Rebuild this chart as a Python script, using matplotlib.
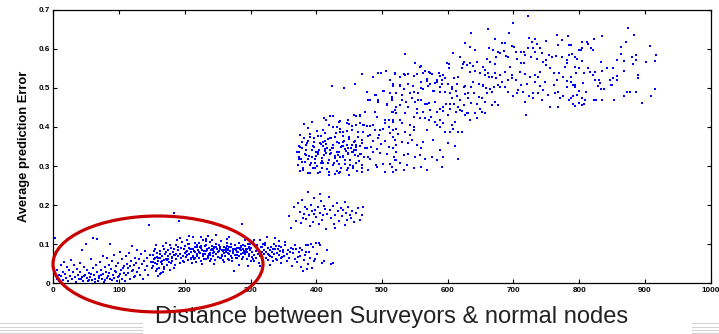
import matplotlib
matplotlib.use("Agg")
import matplotlib.pyplot as plt
from matplotlib.patches import Ellipse
from matplotlib.lines import Line2D

# ---------------- data (distance, average prediction error) ----------------
near_pts = [
    (3,.115),(5,.012),(6,.035),(8,.022),(9,.006),(11,.048),(12,.018),(14,.030),(15,.009),(17,.055),
    (18,.025),(20,.014),(21,.041),(23,.005),(24,.033),(26,.019),(27,.060),(29,.011),(30,.028),(31,.046),
    (33,.016),(34,.004),(36,.037),(37,.022),(39,.012),(40,.052),(41,.030),(43,.084),(44,.015),(45,.007),
    (47,.042),(48,.021),(49,.101),(51,.013),(52,.034),(53,.005),(55,.026),(56,.016),(57,.061),(59,.009),
    (60,.038),(61,.117),(62,.020),(63,.011),(65,.047),(66,.113),(67,.028),(68,.006),(70,.018),(71,.055),
    (72,.033),(74,.012),(75,.070),(76,.024),(78,.041),(79,.008),(80,.030),(81,.064),(83,.019),(84,.046),
    (86,.011),(87,.100),(88,.036),(89,.058),(91,.022),(92,.014),(93,.072),(95,.043),(96,.029),(97,.006),
    (99,.052),(100,.018),(101,.081),(103,.035),(104,.062),(105,.012),(107,.044),(108,.027),(110,.069),(111,.020),
    (112,.050),(114,.038),(115,.078),(116,.010),(118,.058),(119,.031),(120,.095),(122,.046),(123,.016),(124,.066),
    (126,.053),(127,.028),(128,.086),(130,.040),(131,.061),(132,.022),(134,.074),(135,.049),(136,.012),(138,.057),
    (139,.083),(140,.034),(142,.066),(143,.045),(144,.020),(146,.149),(147,.072),(148,.054),(150,.038),
    (42,.010),(46,.018),(54,.008),(58,.024),(64,.003),(69,.014),(73,.021),(77,.004),(82,.013),(85,.026),
    (90,.009),(94,.031),(98,.015),(102,.024),(106,.039),(109,.005),(113,.027),(117,.043),(121,.033),(125,.019),
]

mid_pts = [
    (151,.072),(152,.045),(153,.061),(154,.089),(155,.052),(156,.031),(157,.068),(158,.078),(159,.018),(160,.057),
    (161,.040),(162,.083),(163,.064),(164,.027),(165,.071),(166,.050),(167,.095),(168,.059),(169,.036),(170,.076),
    (171,.062),(172,.104),(173,.048),(174,.069),(175,.085),(176,.055),(177,.033),(178,.074),(179,.091),(180,.066),
    (181,.058),(182,.080),(183,.181),(184,.072),(185,.047),(186,.097),(187,.063),(188,.110),(189,.069),(190,.084),
    (191,.160),(192,.052),(193,.075),(194,.090),(195,.066),(196,.106),(197,.071),(198,.058),(199,.087),(200,.078),
    (151,.055),(154,.066),(158,.049),(162,.074),(166,.058),(171,.080),(175,.061),(179,.052),(183,.088),(187,.076),
    (153,.083),(157,.037),(160,.064),(164,.054),(169,.087),(173,.059),(177,.098),(181,.067),(185,.073),(189,.093),
    (201,.095),(202,.068),(203,.082),(204,.112),(205,.059),(206,.076),(207,.101),(208,.087),(209,.064),(210,.079),
    (211,.088),(212,.071),(213,.118),(214,.062),(215,.093),(216,.080),(217,.055),(218,.098),(219,.074),(220,.085),
    (221,.066),(222,.103),(223,.078),(224,.091),(225,.058),(226,.086),(227,.071),(228,.110),(229,.082),(230,.095),
    (231,.074),(232,.062),(233,.099),(234,.084),(235,.121),(236,.069),(237,.090),(238,.077),(239,.105),(240,.063),
    (241,.087),(242,.112),(243,.070),(244,.094),(245,.081),(246,.060),(247,.100),(248,.076),(249,.089),(250,.068),
    (203,.073),(207,.090),(212,.067),(216,.103),(221,.079),(225,.096),(229,.063),(234,.087),(238,.072),(243,.084),
    (205,.100),(209,.061),(214,.082),(218,.070),(223,.092),(227,.075),(232,.108),(236,.066),(241,.096),(245,.090),
    (251,.079),(252,.097),(253,.065),(254,.088),(255,.108),(256,.073),(257,.084),(258,.060),(259,.093),(260,.077),
    (261,.069),(262,.090),(263,.080),(264,.102),(265,.062),(266,.086),(267,.075),(268,.118),(269,.083),(270,.071),
    (271,.094),(272,.066),(273,.087),(274,.078),(275,.031),(276,.099),(277,.072),(278,.085),(279,.091),(280,.064),
    (281,.080),(282,.104),(283,.070),(284,.089),(285,.076),(286,.092),(287,.152),(288,.067),(289,.098),(290,.083),
    (291,.074),(292,.095),(293,.087),(294,.061),(295,.079),(296,.101),(297,.070),(298,.090),(299,.084),(300,.057),
    (253,.092),(257,.070),(262,.085),(266,.077),(271,.101),(276,.088),(280,.073),(285,.096),(289,.078),(294,.089),
    (255,.064),(259,.086),(264,.096),(268,.059),(273,.080),(278,.066),(282,.091),(287,.062),(292,.081),(297,.093),
    (156,.098),(168,.042),(193,.115),(211,.051),(233,.113),(247,.124),(272,.056),(291,.110),(184,.040),(224,.118),
    (199,.054),(215,.065),(239,.058),(260,.055),(283,.047),(226,.050),(206,.120),(244,.049),(264,.113),(296,.045),
    (202,.081),(218,.094),(237,.075),(252,.083),(268,.093),(286,.085),(299,.100),(243,.078),(228,.069),(213,.087),
    (240,.085),(258,.082),(274,.086),(279,.079),(288,.087),(293,.082),(298,.076),(265,.089),(248,.092),(232,.083),
    (162,.025),(167,.030),
]

plateau_pts = [
    (301,.091),(302,.068),(303,.080),(304,.105),(305,.072),(306,.058),(307,.095),(308,.083),(309,.064),(310,.099),
    (311,.076),(312,.088),(313,.052),(314,.110),(315,.069),(316,.093),(317,.081),(318,.062),(319,.101),(320,.074),
    (321,.085),(322,.097),(323,.066),(324,.079),(325,.118),(326,.059),(327,.090),(328,.072),(329,.084),(330,.047),
    (331,.093),(332,.068),(333,.081),(334,.056),(335,.100),(336,.074),(337,.087),(338,.063),(339,.095),(340,.078),
    (341,.060),(342,.089),(343,.072),(344,.108),(345,.083),(346,.051),(347,.094),(348,.067),(349,.079),(350,.086),
    (351,.071),(353,.097),(355,.058),(357,.084),(359,.066),(361,.091),(363,.043),(365,.077),(367,.062),(369,.088),
    (371,.054),(373,.079),(375,.069),(377,.041),(379,.085),(381,.060),(383,.073),(385,.097),(387,.050),(389,.081),
    (391,.066),(393,.038),(395,.092),(398,.061),(401,.074),(404,.103),(408,.052),(412,.058),(417,.085),(423,.049),
    (306,.112),(314,.043),(322,.104),(329,.069),(337,.115),(344,.096),(352,.106),(360,.080),(368,.099),(376,.090),
    (304,.062),(318,.093),(326,.076),(334,.089),(346,.064),(356,.075),(364,.087),(372,.068),(384,.079),(396,.058),
    (380,.031),(386,.037),(392,.101),(388,.098),(399,.104),(406,.099),(425,.052),
]

step_pts = [
    (358,.172),(362,.141),(366,.195),(369,.160),(372,.205),(375,.183),(377,.153),(379,.212),(381,.178),(383,.196),
    (385,.165),(386,.190),(388,.234),(389,.175),(391,.146),(392,.201),(394,.184),(395,.158),(397,.219),(398,.188),
    (400,.170),(402,.196),(404,.151),(405,.181),(407,.210),(409,.163),(411,.175),(413,.191),(415,.140),(417,.178),
    (419,.222),(421,.187),(423,.166),(425,.199),(427,.151),(429,.176),(431,.205),(433,.184),(435,.160),(437,.193),
    (439,.171),(441,.188),(443,.149),(445,.181),(447,.163),(449,.195),(451,.176),(453,.168),(455,.186),(458,.157),
    (461,.179),(464,.192),(467,.163),(470,.174),(380,.166),(396,.178),(412,.199),(428,.141),(444,.207),(406,.228),
    (471,.196),
]

band_pts = [
    (371,.336),(372,.302),(374,.351),(375,.288),(377,.319),(378,.345),(380,.296),(381,.372),(383,.311),(384,.328),
    (386,.358),(387,.283),(389,.325),(390,.383),(392,.307),(393,.341),(395,.294),(396,.362),(398,.318),(399,.335),
    (401,.300),(402,.377),(404,.342),(405,.286),(407,.356),(408,.321),(410,.392),(411,.309),(413,.338),(414,.364),
    (416,.293),(417,.347),(419,.406),(420,.315),(422,.333),(423,.371),(425,.302),(426,.355),(428,.280),(429,.326),
    (431,.362),(432,.312),(434,.337),(435,.413),(437,.296),(438,.350),(440,.323),(441,.386),(443,.343),(444,.305),
    (446,.355),(447,.290),(449,.331),(450,.370),(452,.316),(453,.345),(455,.402),(456,.299),(458,.361),(459,.327),
    (461,.340),(462,.287),(464,.374),(465,.313),(467,.352),(468,.330),(470,.295),(471,.388),(473,.322),(474,.346),
    (373,.318),(379,.362),(385,.340),(391,.302),(397,.348),(403,.331),(409,.314),(415,.356),(421,.341),(427,.309),
    (433,.329),(439,.352),(445,.339),(451,.303),(457,.341),(463,.325),(469,.367),(376,.379),(388,.397),(400,.326),
    (406,.360),(412,.329),(418,.370),(424,.347),(430,.385),(436,.322),(442,.365),(448,.347),(454,.336),(460,.355),
    (382,.408),(394,.412),(412,.423),(426,.428),(436,.395),(448,.418),(458,.431),(466,.409),(403,.281),(419,.276),
    (424,.505),(442,.500),(459,.510),(435,.281),(450,.278),
    (477,.490),(491,.482),(502,.492),(512,.488),(482,.469),(494,.465),(507,.456),(515,.473),(522,.452),(474,.439),
    (489,.437),(515,.439),(522,.435),(510,.419),(504,.411),(517,.413),(461,.428),(466,.431),(421,.428),(415,.418),
    (436,.414),(446,.411),(450,.408),(425,.401),(431,.399),(461,.405),(471,.405),(477,.402),(487,.405),(502,.396),
    (510,.399),(521,.394),(390,.375),(401,.389),(407,.377),(413,.385),(436,.386),(441,.378),(446,.390),(454,.392),
    (464,.388),(482,.379),(489,.391),(496,.380),(512,.385),(388,.364),(397,.372),(411,.361),(421,.371),(428,.374),
    (441,.362),(450,.375),(459,.363),(469,.366),(478,.376),(487,.363),(494,.373),(504,.365),(517,.374),(375,.349),
    (384,.355),(395,.351),(411,.352),(413,.343),(425,.345),(434,.360),(441,.351),(454,.353),(460,.348),(469,.359),
    (477,.345),(484,.348),(493,.343),(499,.357),(510,.348),(522,.354),(373,.337),(383,.332),(393,.324),(402,.337),
    (415,.334),(421,.332),(432,.337),(441,.326),(449,.334),(456,.335),(466,.332),(478,.323),(487,.337),(497,.333),
    (507,.332),(518,.322),(378,.311),(388,.319),(398,.307),(407,.308),(418,.309),(428,.320),(435,.305),(444,.316),
    (451,.303),(461,.309),(469,.303),(482,.317),(491,.303),(501,.306),(512,.305),(522,.316),(380,.290),(390,.282),
    (398,.294),(408,.296),(420,.285),(431,.287),(436,.285),(449,.296),(456,.294),(469,.284),(479,.291),(492,.297),
    (504,.285),(517,.286),(373,.324),
    (535,.586),(487,.527),(494,.537),(498,.537),(506,.544),(520,.535),(527,.529),(533,.535),(539,.535),(512,.520),
    (517,.505),(527,.505),(503,.493),(489,.482),(479,.469),(494,.469),(507,.460),(515,.470),(530,.469),(537,.465),
    (466,.428),(472,.405),(482,.402),(492,.426),(497,.392),(505,.418),(517,.439),(527,.418),(535,.435),(470,.535),
]

rise_pts = [
    (550,.564),(560,.556),(602,.562),(623,.561),(634,.564),(645,.567),(520,.537),(535,.533),(548,.530),(553,.535),
    (563,.539),(571,.541),(576,.535),(586,.539),(588,.530),(593,.533),(596,.524),(583,.520),(609,.524),(616,.527),
    (634,.541),(642,.544),(649,.537),(657,.533),(621,.552),(629,.558),(639,.556),(517,.511),(527,.507),(533,.498),
    (540,.511),(547,.504),(560,.516),(568,.518),(573,.510),(581,.513),(591,.511),(601,.510),(606,.503),(614,.510),
    (626,.504),(636,.503),(647,.510),(654,.507),(639,.516),(563,.496),(577,.493),(588,.490),(555,.487),(543,.486),
    (522,.486),(515,.477),(530,.481),(545,.473),(550,.464),(560,.469),(565,.458),(572,.462),(603,.486),(606,.473),
    (614,.479),(619,.469),(626,.484),(631,.475),(640,.486),(648,.477),(659,.486),(657,.464),(645,.460),(636,.462),
    (625,.456),(616,.452),(609,.458),(598,.460),(588,.447),(583,.439),(593,.441),(603,.445),(613,.439),(621,.441),
    (631,.436),(642,.435),(652,.439),(645,.422),(634,.417),(626,.430),(573,.443),(563,.439),(553,.445),(540,.452),
    (527,.456),(520,.443),(535,.435),(548,.426),(558,.422),(571,.419),(581,.413),(593,.409),(606,.405),(616,.388),
    (603,.388),(588,.400),(517,.417),(530,.409),(543,.405),(517,.392),(525,.383),(535,.388),(543,.379),(548,.392),
    (520,.366),(530,.362),(540,.358),(545,.366),(553,.353),(560,.345),(563,.362),(578,.366),(588,.341),(601,.358),
    (611,.351),(516,.345),(522,.336),(533,.328),(540,.332),(550,.324),(558,.328),(565,.319),(576,.322),(583,.315),
    (593,.324),(616,.317),(520,.315),(527,.307),(538,.302),(548,.294),(560,.298),(568,.290),(522,.291),(533,.290),
    (591,.298),(515,.298),
    (550,.564),(558,.554),(565,.544),(573,.537),(568,.522),(583,.516),(591,.520),(599,.563),(602,.550),(608,.588),
    (619,.580),(624,.567),(629,.558),(634,.605),(626,.614),(636,.640),(641,.597),(548,.490),(560,.499),(570,.505),
    (579,.493),(588,.503),(596,.490),(606,.496),(613,.493),(624,.501),(631,.486),(555,.469),(568,.460),(581,.465),
    (593,.452),(603,.460),(619,.443),(629,.435),(553,.435),(565,.422),(575,.426),(588,.418),(601,.430),(611,.413),
    (548,.401),(568,.392),(583,.405),(596,.388),(608,.396),(621,.388),
]

high_pts = [
    (722,.684),(700,.665),(662,.650),(693,.641),(766,.636),(783,.632),(724,.627),(732,.624),(728,.618),(672,.624),
    (682,.614),(687,.615),(774,.622),(749,.621),(785,.609),(663,.603),(669,.598),(676,.592),(680,.588),(685,.595),
    (688,.581),(698,.608),(701,.605),(704,.592),(711,.592),(716,.593),(722,.603),(730,.603),(736,.612),(741,.603),
    (743,.590),(733,.591),(767,.609),(765,.582),(774,.580),(784,.584),(781,.571),(796,.573),(800,.597),(758,.580),
    (754,.583),(750,.571),(745,.567),(736,.573),(726,.580),(717,.584),(712,.564),(716,.564),(705,.575),(692,.578),
    (695,.554),(674,.580),(659,.575),(664,.567),(672,.562),(654,.554),(657,.545),(662,.537),(668,.529),(674,.524),
    (672,.539),(687,.541),(698,.524),(710,.541),(717,.535),(725,.529),(732,.533),(738,.529),(741,.541),(750,.558),
    (755,.552),(762,.537),(769,.537),(778,.554),(782,.564),(788,.529),(795,.537),(653,.504),(658,.499),(664,.496),
    (671,.503),(677,.507),(679,.501),(667,.490),(672,.464),(677,.456),(668,.456),(652,.473),(649,.447),(657,.435),
    (692,.490),(700,.479),(707,.494),(706,.486),(715,.490),(717,.464),(719,.431),(724,.479),(729,.486),(730,.473),
    (738,.487),(743,.469),(745,.494),(753,.481),(755,.452),(761,.507),(763,.486),(768,.490),(771,.473),(776,.479),
    (781,.503),(785,.469),(791,.460),(796,.481),(793,.453),(767,.452),(712,.507),(720,.511),(733,.516),(740,.504),
    (748,.516),(766,.520),(776,.529),(782,.518),(790,.507),(691,.521),(683,.516),(687,.503),(698,.533),(704,.520),
    (679,.533),(663,.529),
]

far_pts = [
    (874,.652),(883,.635),(908,.607),(917,.584),(916,.570),(902,.567),(890,.533),(890,.524),(915,.497),(909,.480),
    (896,.461),(887,.490),(877,.490),(872,.490),(868,.479),(853,.469),(871,.617),(863,.605),(863,.587),(857,.571),
    (868,.570),(868,.543),(880,.579),(886,.585),(886,.572),(882,.560),(858,.530),(857,.520),(851,.524),(848,.508),
    (842,.551),(851,.551),(835,.543),(833,.566),(838,.497),(833,.497),(826,.469),(822,.469),(835,.470),(835,.632),
    (823,.626),(812,.617),(814,.612),(818,.601),(821,.597),(804,.602),(802,.596),(804,.617),(789,.587),(793,.580),
    (787,.610),(804,.570),(793,.553),(799,.551),(807,.538),(813,.552),(817,.540),(824,.541),(821,.532),(824,.520),
    (830,.520),(832,.512),(829,.505),(847,.520),(850,.508),(806,.513),(793,.507),(788,.516),(794,.503),(810,.490),
    (800,.492),(790,.480),(804,.474),(809,.470),(799,.462),(804,.456),(808,.459),(791,.459),(787,.474),
]

clusters = [near_pts, mid_pts, plateau_pts, step_pts, band_pts, rise_pts, high_pts, far_pts]

x_ticks = [0, 100, 200, 300, 400, 500, 600, 700, 800, 900, 1000]
y_ticks = [0, 0.1, 0.2, 0.3, 0.4, 0.5, 0.6, 0.7]
y_tick_labels = ["0", "0.1", "0.2", "0.3", "0.4", "0.5", "0.6", "0.7"]
x_label = "Distance between Surveyors & normal nodes"
y_label = "Average prediction Error"

# ---------------- figure ----------------
W, H = 719, 334
fig = plt.figure(figsize=(W / 100, H / 100), dpi=100)
fig.patch.set_facecolor("white")
ax = fig.add_axes([53.3 / W, 1 - 283.3 / H, (710.7 - 53.3) / W, (283.3 - 9.7) / H])

for pts in clusters:
    xs = [p[0] for p in pts]
    ys = [p[1] for p in pts]
    ax.plot(xs, ys, linestyle="none", marker="s", markersize=1.9,
            markeredgewidth=0, color="#0000ff", clip_on=False)

ax.set_xlim(0, 1000)
ax.set_ylim(0, 0.7)
ax.set_xticks(x_ticks)
ax.set_xticklabels([str(t) for t in x_ticks])
ax.set_yticks(y_ticks)
ax.set_yticklabels(y_tick_labels)

for lab in ax.get_xticklabels() + ax.get_yticklabels():
    lab.set_fontfamily("Liberation Sans")
    lab.set_fontweight("bold")
    lab.set_fontsize(5.8)

ax.tick_params(direction="in", top=True, right=True, length=3.2, width=0.8,
               colors="black", pad=2.5)
for sp in ax.spines.values():
    sp.set_linewidth(0.9)
    sp.set_color("black")

ax.set_ylabel(y_label, fontfamily="Liberation Sans", fontweight="bold",
              fontsize=9.3, labelpad=6)
fig.text(392 / W, 1 - 323 / H, x_label, ha="center", va="baseline",
         fontfamily="Liberation Sans", fontsize=17, color="#222222")

# red highlight ellipse
ell = Ellipse((158 / W, 1 - 264 / H), 210 / W, 96 / H, transform=fig.transFigure,
              fill=False, edgecolor="#c80000", linewidth=2.3, zorder=10)
fig.add_artist(ell)

# slide decoration lines
for yy in (323, 326.5, 330, 333):
    fig.add_artist(Line2D([0, 142 / W], [1 - yy / H, 1 - yy / H], transform=fig.transFigure,
                          color="#d4d4d4", linewidth=0.8))
    fig.add_artist(Line2D([692 / W, 1], [1 - yy / H, 1 - yy / H], transform=fig.transFigure,
                          color="#d4d4d4", linewidth=0.8))

fig.savefig("out.png", dpi=100)
